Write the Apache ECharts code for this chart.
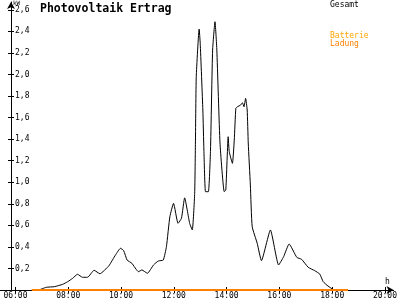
<!DOCTYPE html>
<html>
<head>
<meta charset="utf-8">
<script src="https://cdn.jsdelivr.net/npm/echarts@6/dist/echarts.min.js"></script>
<style>html,body{margin:0;padding:0;background:#fff}#c{width:400px;height:300px}</style>
</head>
<body>
<div id="c"></div>
<script>
// Time of day in hours
var gesamtTimes = [6.89,7.17,7.48,7.79,7.98,8.17,8.35,8.54,8.73,8.98,9.20,9.54,9.79,9.98,10.10,10.23,10.41,10.66,10.79,11.00,11.23,11.41,11.60,11.72,11.85,11.99,12.16,12.29,12.41,12.60,12.70,12.79,12.82,12.85,12.96,13.00,13.10,13.14,13.20,13.31,13.39,13.47,13.56,13.63,13.75,13.91,13.97,14.06,14.10,14.22,14.29,14.35,14.41,14.53,14.60,14.66,14.72,14.78,14.82,14.90,14.97,15.16,15.32,15.66,15.97,16.16,16.37,16.66,16.84,17.09,17.34,17.53,17.66,17.84,18.03];
// Gesamt power in kW
var gesamtValues = [0,0.025,0.031,0.053,0.077,0.109,0.146,0.118,0.118,0.183,0.151,0.225,0.325,0.387,0.365,0.278,0.248,0.170,0.186,0.155,0.232,0.269,0.278,0.402,0.680,0.804,0.619,0.666,0.855,0.619,0.557,0.897,1.391,1.979,2.421,2.289,1.670,1.299,0.912,0.912,1.299,2.226,2.489,2.226,1.364,0.912,0.928,1.422,1.283,1.175,1.391,1.686,1.700,1.716,1.737,1.700,1.778,1.670,1.364,0.974,0.587,0.433,0.272,0.557,0.232,0.309,0.427,0.303,0.285,0.211,0.179,0.148,0.077,0.037,0.006];
// Batterie Ladung
var ladungTimes = [6.62,18.60];
var ladungValues = [0,0];
// Tick labels
var xTicks = [6,8,10,12,14,16,18,20];
var yTicks = [0.2,0.4,0.6,0.8,1.0,1.2,1.4,1.6,1.8,2.0,2.2,2.4,2.6];
var legendNames = ['Gesamt','Batterie','Ladung'];
var titleText = 'Photovoltaik Ertrag';

function pairs(t, v){ return t.map(function(x,i){ return [x, v[i]]; }); }
function hh(v){ var h=Math.round(v); return (h<10?'0':'')+h+':00'; }

var FONT = 'DejaVu Sans Mono';
var chart = echarts.init(document.getElementById('c'), null, {renderer:'canvas'});
var xBase = {type:'value', min:5.831, max:20.326, position:'bottom',
  splitLine:{show:false}};
var yBase = {type:'value', min:0, max:2.672, position:'left', splitLine:{show:false}};
chart.setOption({
  animation:false,
  backgroundColor:'#fff',
  grid:{left:11, right:2, top:2, bottom:10, containLabel:false},
  xAxis:[
    Object.assign({}, xBase, {
      axisLine:{show:true, lineStyle:{color:'#000', width:1}, symbol:['none','arrow'], symbolSize:[6,7]},
      axisTick:{show:true, length:3, inside:false, customValues:xTicks, lineStyle:{color:'#000'}},
      axisLabel:{show:true, customValues:xTicks, formatter:hh, margin:2, color:'#000', fontFamily:FONT, fontSize:8,
        alignMinLabel:'center', alignMaxLabel:'center', hideOverlap:false}
    }),
    Object.assign({}, xBase, {
      axisLine:{show:false},
      axisTick:{show:true, length:3, inside:true, customValues:xTicks, lineStyle:{color:'#000'}},
      axisLabel:{show:false}
    })
  ],
  yAxis:[
    Object.assign({}, yBase, {
      axisLine:{show:true, lineStyle:{color:'#000', width:1}, symbol:['none','arrow'], symbolSize:[6,7]},
      axisTick:{show:true, length:3, inside:false, customValues:yTicks, lineStyle:{color:'#000'}},
      axisLabel:{show:true, inside:true, customValues:yTicks, margin:4, color:'#000', fontFamily:FONT, fontSize:8,
        formatter:function(v){ return v.toFixed(1).replace('.',','); }}
    }),
    Object.assign({}, yBase, {
      axisLine:{show:false},
      axisTick:{show:true, length:3, inside:true, customValues:yTicks, lineStyle:{color:'#000'}},
      axisLabel:{show:false}
    })
  ],
  series:[
    {name:legendNames[0], type:'line', data:pairs(gesamtTimes, gesamtValues), showSymbol:false, smooth:0.15,
      lineStyle:{color:'#000', width:1}, itemStyle:{color:'#000'}, z:3},
    {name:legendNames[2], type:'line', data:pairs(ladungTimes, ladungValues), showSymbol:false,
      lineStyle:{color:'#FF8000', width:2}, itemStyle:{color:'#FF8000'}, z:4}
  ],
  graphic:[
    {type:'line', shape:{x1:0, y1:290.5, x2:11, y2:290.5}, style:{stroke:'#000', lineWidth:1}},
    {type:'text', left:40, top:3, style:{text:titleText, font:'bold 11.5px "DejaVu Sans Mono"', fill:'#000'}},
    {type:'text', left:13, top:0, style:{text:'kW', font:'6px "DejaVu Sans Mono"', fill:'#000'}},
    {type:'text', left:385, top:278, style:{text:'h', font:'8px "DejaVu Sans Mono"', fill:'#000'}},
    {type:'text', left:330, top:1, style:{text:legendNames[0], font:'8px "DejaVu Sans Mono"', fill:'#000'}},
    {type:'text', left:330, top:32, style:{text:legendNames[1], font:'8px "DejaVu Sans Mono"', fill:'#FFA500'}},
    {type:'text', left:330, top:40, style:{text:legendNames[2], font:'8px "DejaVu Sans Mono"', fill:'#FF8000'}}
  ]
});
</script>
</body>
</html>
